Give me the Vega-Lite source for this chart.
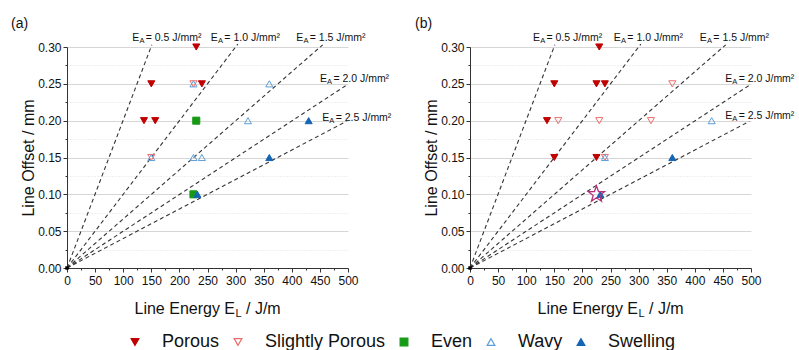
{
  "$schema": "https://vega.github.io/schema/vega-lite/v6.json",
  "background": "white",
  "padding": {"left": 11, "top": 17, "right": 5, "bottom": 5},
  "bounds": "flush",
  "spacing": 122,
  "config": {
    "font": "Liberation Sans",
    "view": {"stroke": null},
    "axis": {
      "domainColor": "#333333",
      "tickColor": "#333333",
      "labelColor": "#111111",
      "labelFontSize": 12,
      "titleFontSize": 16,
      "titleFontWeight": "normal",
      "titleColor": "#111111",
      "labelOverlap": false,
      "labelFlush": false
    },
    "legend": {
      "orient": "none",
      "legendX": 59,
      "legendY": 286,
      "direction": "horizontal",
      "labelFontSize": 18,
      "labelColor": "#111111",
      "symbolSize": 60,
      "labelOffset": 18,
      "columnPadding": 9,
      "symbolStrokeWidth": 1.2
    },
    "title": {"fontSize": 14, "fontWeight": "normal", "color": "#111111"}
  },
  "datasets": {
    "points": [
      {"panel": "a", "cat": "Porous", "x": 230, "y": 0.30},
      {"panel": "a", "cat": "Porous", "x": 150, "y": 0.25},
      {"panel": "a", "cat": "Porous", "x": 240, "y": 0.25},
      {"panel": "a", "cat": "Porous", "x": 137, "y": 0.20},
      {"panel": "a", "cat": "Porous", "x": 157, "y": 0.20},
      {"panel": "a", "cat": "Slightly Porous", "x": 225, "y": 0.25},
      {"panel": "a", "cat": "Slightly Porous", "x": 150, "y": 0.15},
      {"panel": "a", "cat": "Even", "x": 230, "y": 0.20},
      {"panel": "a", "cat": "Even", "x": 225, "y": 0.10},
      {"panel": "a", "cat": "Wavy", "x": 225, "y": 0.25},
      {"panel": "a", "cat": "Wavy", "x": 360, "y": 0.25},
      {"panel": "a", "cat": "Wavy", "x": 322, "y": 0.20},
      {"panel": "a", "cat": "Wavy", "x": 150, "y": 0.15},
      {"panel": "a", "cat": "Wavy", "x": 225, "y": 0.15},
      {"panel": "a", "cat": "Wavy", "x": 240, "y": 0.15},
      {"panel": "a", "cat": "Swelling", "x": 430, "y": 0.20},
      {"panel": "a", "cat": "Swelling", "x": 360, "y": 0.15},
      {"panel": "a", "cat": "Swelling", "x": 232, "y": 0.10},
      {"panel": "b", "cat": "Porous", "x": 230, "y": 0.30},
      {"panel": "b", "cat": "Porous", "x": 150, "y": 0.25},
      {"panel": "b", "cat": "Porous", "x": 225, "y": 0.25},
      {"panel": "b", "cat": "Porous", "x": 240, "y": 0.25},
      {"panel": "b", "cat": "Porous", "x": 137, "y": 0.20},
      {"panel": "b", "cat": "Porous", "x": 150, "y": 0.15},
      {"panel": "b", "cat": "Porous", "x": 225, "y": 0.15},
      {"panel": "b", "cat": "Slightly Porous", "x": 360, "y": 0.25},
      {"panel": "b", "cat": "Slightly Porous", "x": 157, "y": 0.20},
      {"panel": "b", "cat": "Slightly Porous", "x": 230, "y": 0.20},
      {"panel": "b", "cat": "Slightly Porous", "x": 322, "y": 0.20},
      {"panel": "b", "cat": "Slightly Porous", "x": 240, "y": 0.15},
      {"panel": "b", "cat": "Wavy", "x": 430, "y": 0.20},
      {"panel": "b", "cat": "Wavy", "x": 240, "y": 0.15},
      {"panel": "b", "cat": "Swelling", "x": 360, "y": 0.15},
      {"panel": "b", "cat": "Swelling", "x": 232, "y": 0.10}
    ],
    "lines": [
      {"EA": "0.5", "x": 0, "y": 0}, {"EA": "0.5", "x": 151, "y": 0.303},
      {"EA": "1.0", "x": 0, "y": 0}, {"EA": "1.0", "x": 304, "y": 0.304},
      {"EA": "1.5", "x": 0, "y": 0}, {"EA": "1.5", "x": 455, "y": 0.303},
      {"EA": "2.0", "x": 0, "y": 0}, {"EA": "2.0", "x": 497, "y": 0.248},
      {"EA": "2.5", "x": 0, "y": 0}, {"EA": "2.5", "x": 497, "y": 0.199}
    ],
    "labels": [
      {"panel": "a", "label": "= 0.5 J/mm²", "x": 116, "y": 0.312},
      {"panel": "a", "label": "= 1.0 J/mm²", "x": 256, "y": 0.312},
      {"panel": "a", "label": "= 1.5 J/mm²", "x": 408, "y": 0.312},
      {"panel": "a", "label": "= 2.0 J/mm²", "x": 450, "y": 0.257},
      {"panel": "a", "label": "= 2.5 J/mm²", "x": 454, "y": 0.204},
      {"panel": "b", "label": "= 0.5 J/mm²", "x": 112, "y": 0.312},
      {"panel": "b", "label": "= 1.0 J/mm²", "x": 256, "y": 0.312},
      {"panel": "b", "label": "= 1.5 J/mm²", "x": 409, "y": 0.312},
      {"panel": "b", "label": "= 2.0 J/mm²", "x": 454, "y": 0.257},
      {"panel": "b", "label": "= 2.5 J/mm²", "x": 454, "y": 0.206}
    ],
    "origin": [{"x": 0, "y": 0}],
    "special": [{"panel": "b", "x": 225, "y": 0.10}],
    "xtitle": [{"main": "Line Energy E", "sub": "L", "unit": "/ J/m"}]
  },
  "resolve": {
    "scale": {"fill": "shared", "stroke": "shared", "shape": "shared"},
    "legend": {"fill": "shared", "stroke": "shared", "shape": "shared"}
  },
  "hconcat": [
    {
      "width": 281,
      "height": 221,
      "title": {"text": "(a)", "anchor": "start", "frame": "group", "dx": -56, "dy": 2},
      "layer": [
        {
          "data": {"name": "lines"},
          "mark": {"type": "line", "strokeDash": [4, 3], "color": "#333333", "strokeWidth": 1.1, "clip": false},
          "encoding": {
            "x": {"field": "x", "type": "quantitative", "scale": {"domain": [0, 500], "nice": false},
              "axis": {"title": null, "tickCount": 30,
                "values": [0,25,50,75,100,125,150,175,200,225,250,275,300,325,350,375,400,425,450,475,500],
                "labelExpr": "datum.value % 50 == 0 ? datum.label : ''",
                "tickSize": {"condition": {"test": "datum.value % 50 != 0", "value": 2}, "value": 4},
                "grid": false, "labelPadding": 3}},
            "y": {"field": "y", "type": "quantitative", "scale": {"domain": [0, 0.3], "nice": false},
              "axis": {"title": "Line Offset / mm", "titlePadding": 1, "tickCount": 30,
                "values": [0,0.025,0.05,0.075,0.1,0.125,0.15,0.175,0.2,0.225,0.25,0.275,0.3],
                "labelExpr": "abs(datum.value*20 - round(datum.value*20)) < 0.01 ? format(datum.value, '.2f') : ''",
                "tickSize": {"condition": {"test": "abs(datum.value*20 - round(datum.value*20)) > 0.01", "value": 2}, "value": 4},
                "grid": true,
                "gridColor": {"condition": {"test": "abs(datum.value*20 - round(datum.value*20)) > 0.01", "value": "#e0e0e0"}, "value": "#d6d6d6"},
                "gridDash": {"condition": {"test": "abs(datum.value*20 - round(datum.value*20)) > 0.01", "value": [1, 2]}, "value": []}}},
            "detail": {"field": "EA"}
          }
        },
        {
          "data": {"name": "points"},
          "transform": [{"filter": "datum.panel == 'a'"}],
          "mark": {"type": "point", "filled": true, "size": 50, "strokeWidth": 1, "opacity": 1},
          "encoding": {
            "x": {"field": "x", "type": "quantitative"},
            "y": {"field": "y", "type": "quantitative"},
            "shape": {"field": "cat", "type": "nominal", "legend": {"title": null},
              "scale": {"domain": ["Porous", "Slightly Porous", "Even", "Wavy", "Swelling"], "range": ["triangle-down", "triangle-down", "square", "triangle-up", "triangle-up"]}},
            "fill": {"field": "cat", "type": "nominal", "legend": {"title": null},
              "scale": {"domain": ["Porous", "Slightly Porous", "Even", "Wavy", "Swelling"], "range": ["#c00000", "transparent", "#169a16", "transparent", "#1565b5"]}},
            "stroke": {"field": "cat", "type": "nominal", "legend": {"title": null},
              "scale": {"domain": ["Porous", "Slightly Porous", "Even", "Wavy", "Swelling"], "range": ["#c00000", "#ef6b6b", "#169a16", "#5d9fd8", "#1565b5"]}}
          }
        },
        {
          "data": {"name": "origin"},
          "mark": {"type": "point", "shape": "square", "filled": true, "size": 12, "color": "#000000", "opacity": 1},
          "encoding": {"x": {"field": "x", "type": "quantitative"}, "y": {"field": "y", "type": "quantitative"}}
        },
        {
          "data": {"name": "labels"},
          "transform": [{"filter": "datum.panel == 'a'"}],
          "mark": {"type": "text", "align": "left", "baseline": "middle", "fontSize": 10.5, "color": "#111111"},
          "encoding": {"x": {"field": "x", "type": "quantitative"}, "y": {"field": "y", "type": "quantitative"}, "text": {"value": "E"}}
        },
        {
          "data": {"name": "labels"},
          "transform": [{"filter": "datum.panel == 'a'"}],
          "mark": {"type": "text", "align": "left", "baseline": "middle", "fontSize": 7.5, "dx": 7.2, "dy": 3, "color": "#111111"},
          "encoding": {"x": {"field": "x", "type": "quantitative"}, "y": {"field": "y", "type": "quantitative"}, "text": {"value": "A"}}
        },
        {
          "data": {"name": "labels"},
          "transform": [{"filter": "datum.panel == 'a'"}],
          "mark": {"type": "text", "align": "left", "baseline": "middle", "fontSize": 10.5, "dx": 13.5, "color": "#111111"},
          "encoding": {"x": {"field": "x", "type": "quantitative"}, "y": {"field": "y", "type": "quantitative"}, "text": {"field": "label"}}
        },
        {
          "data": {"name": "xtitle"},
          "mark": {"type": "text", "align": "right", "baseline": "middle", "fontSize": 16, "color": "#111111"},
          "encoding": {"x": {"datum": 299}, "y": {"datum": -0.056}, "text": {"field": "main"}}
        },
        {
          "data": {"name": "xtitle"},
          "mark": {"type": "text", "align": "left", "baseline": "middle", "fontSize": 11, "dx": 0.5, "dy": 5, "color": "#111111"},
          "encoding": {"x": {"datum": 299}, "y": {"datum": -0.056}, "text": {"field": "sub"}}
        },
        {
          "data": {"name": "xtitle"},
          "mark": {"type": "text", "align": "left", "baseline": "middle", "fontSize": 16, "dx": 11, "color": "#111111"},
          "encoding": {"x": {"datum": 299}, "y": {"datum": -0.056}, "text": {"field": "unit"}}
        }
      ]
    },
    {
      "width": 281,
      "height": 221,
      "title": {"text": "(b)", "anchor": "start", "frame": "group", "dx": -55, "dy": 2},
      "layer": [
        {
          "data": {"name": "lines"},
          "mark": {"type": "line", "strokeDash": [4, 3], "color": "#333333", "strokeWidth": 1.1, "clip": false},
          "encoding": {
            "x": {"field": "x", "type": "quantitative", "scale": {"domain": [0, 500], "nice": false},
              "axis": {"title": null, "tickCount": 30,
                "values": [0,25,50,75,100,125,150,175,200,225,250,275,300,325,350,375,400,425,450,475,500],
                "labelExpr": "datum.value % 50 == 0 ? datum.label : ''",
                "tickSize": {"condition": {"test": "datum.value % 50 != 0", "value": 2}, "value": 4},
                "grid": false, "labelPadding": 3}},
            "y": {"field": "y", "type": "quantitative", "scale": {"domain": [0, 0.3], "nice": false},
              "axis": {"title": "Line Offset / mm", "titlePadding": 1, "tickCount": 30,
                "values": [0,0.025,0.05,0.075,0.1,0.125,0.15,0.175,0.2,0.225,0.25,0.275,0.3],
                "labelExpr": "abs(datum.value*20 - round(datum.value*20)) < 0.01 ? format(datum.value, '.2f') : ''",
                "tickSize": {"condition": {"test": "abs(datum.value*20 - round(datum.value*20)) > 0.01", "value": 2}, "value": 4},
                "grid": true,
                "gridColor": {"condition": {"test": "abs(datum.value*20 - round(datum.value*20)) > 0.01", "value": "#e0e0e0"}, "value": "#d6d6d6"},
                "gridDash": {"condition": {"test": "abs(datum.value*20 - round(datum.value*20)) > 0.01", "value": [1, 2]}, "value": []}}},
            "detail": {"field": "EA"}
          }
        },
        {
          "data": {"name": "points"},
          "transform": [{"filter": "datum.panel == 'b'"}],
          "mark": {"type": "point", "filled": true, "size": 50, "strokeWidth": 1, "opacity": 1},
          "encoding": {
            "x": {"field": "x", "type": "quantitative"},
            "y": {"field": "y", "type": "quantitative"},
            "shape": {"field": "cat", "type": "nominal", "legend": {"title": null},
              "scale": {"domain": ["Porous", "Slightly Porous", "Even", "Wavy", "Swelling"], "range": ["triangle-down", "triangle-down", "square", "triangle-up", "triangle-up"]}},
            "fill": {"field": "cat", "type": "nominal", "legend": {"title": null},
              "scale": {"domain": ["Porous", "Slightly Porous", "Even", "Wavy", "Swelling"], "range": ["#c00000", "transparent", "#169a16", "transparent", "#1565b5"]}},
            "stroke": {"field": "cat", "type": "nominal", "legend": {"title": null},
              "scale": {"domain": ["Porous", "Slightly Porous", "Even", "Wavy", "Swelling"], "range": ["#c00000", "#ef6b6b", "#169a16", "#5d9fd8", "#1565b5"]}}
          }
        },
        {
          "data": {"name": "special"},
          "transform": [{"filter": "datum.panel == 'b'"}],
          "mark": {"type": "point", "shape": "M0,-1L0.235,-0.324L0.951,-0.309L0.380,0.124L0.588,0.809L0,0.4L-0.588,0.809L-0.380,0.124L-0.951,-0.309L-0.235,-0.324Z", "size": 290, "filled": false, "stroke": "#b8307a", "strokeWidth": 1.3, "opacity": 1},
          "encoding": {"x": {"field": "x", "type": "quantitative"}, "y": {"field": "y", "type": "quantitative"}}
        },
        {
          "data": {"name": "origin"},
          "mark": {"type": "point", "shape": "square", "filled": true, "size": 12, "color": "#000000", "opacity": 1},
          "encoding": {"x": {"field": "x", "type": "quantitative"}, "y": {"field": "y", "type": "quantitative"}}
        },
        {
          "data": {"name": "labels"},
          "transform": [{"filter": "datum.panel == 'b'"}],
          "mark": {"type": "text", "align": "left", "baseline": "middle", "fontSize": 10.5, "color": "#111111"},
          "encoding": {"x": {"field": "x", "type": "quantitative"}, "y": {"field": "y", "type": "quantitative"}, "text": {"value": "E"}}
        },
        {
          "data": {"name": "labels"},
          "transform": [{"filter": "datum.panel == 'b'"}],
          "mark": {"type": "text", "align": "left", "baseline": "middle", "fontSize": 7.5, "dx": 7.2, "dy": 3, "color": "#111111"},
          "encoding": {"x": {"field": "x", "type": "quantitative"}, "y": {"field": "y", "type": "quantitative"}, "text": {"value": "A"}}
        },
        {
          "data": {"name": "labels"},
          "transform": [{"filter": "datum.panel == 'b'"}],
          "mark": {"type": "text", "align": "left", "baseline": "middle", "fontSize": 10.5, "dx": 13.5, "color": "#111111"},
          "encoding": {"x": {"field": "x", "type": "quantitative"}, "y": {"field": "y", "type": "quantitative"}, "text": {"field": "label"}}
        },
        {
          "data": {"name": "xtitle"},
          "mark": {"type": "text", "align": "right", "baseline": "middle", "fontSize": 16, "color": "#111111"},
          "encoding": {"x": {"datum": 299}, "y": {"datum": -0.056}, "text": {"field": "main"}}
        },
        {
          "data": {"name": "xtitle"},
          "mark": {"type": "text", "align": "left", "baseline": "middle", "fontSize": 11, "dx": 0.5, "dy": 5, "color": "#111111"},
          "encoding": {"x": {"datum": 299}, "y": {"datum": -0.056}, "text": {"field": "sub"}}
        },
        {
          "data": {"name": "xtitle"},
          "mark": {"type": "text", "align": "left", "baseline": "middle", "fontSize": 16, "dx": 11, "color": "#111111"},
          "encoding": {"x": {"datum": 299}, "y": {"datum": -0.056}, "text": {"field": "unit"}}
        }
      ]
    }
  ]
}
